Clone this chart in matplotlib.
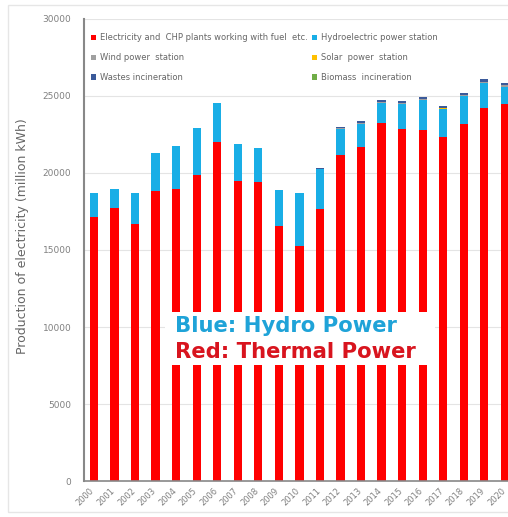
import matplotlib.pyplot as plt
import numpy as np

years = [str(y) for y in range(2000, 2021)]
# million kWh
thermal = [17150, 17700, 16700, 18830, 18980, 19870, 22030, 19480, 19420, 16560, 15260,
           17640, 21200, 21700, 23230, 22860, 22770, 22360, 23160, 24200, 24460]
totals = [18720, 18960, 18720, 21280, 21750, 22900, 24550, 21860, 21620, 18900, 18720,
          20300, 23010, 23380, 24740, 24680, 24960, 24350, 25220, 26090, 25870]
wind = [0, 0, 0, 0, 0, 0, 0, 0, 0, 0, 0, 20, 40, 60, 60, 60, 60, 60, 60, 70, 70]
solar = [0, 0, 0, 0, 0, 0, 0, 0, 0, 0, 0, 0, 5, 10, 15, 15, 20, 20, 20, 20, 20]
wastes = [0, 0, 0, 0, 0, 0, 0, 0, 0, 0, 0, 40, 80, 110, 130, 130, 140, 140, 150, 160, 160]
biomass = [0, 0, 0, 0, 0, 0, 0, 0, 0, 0, 0, 0, 0, 5, 5, 5, 5, 5, 5, 5, 5]
hydro = [t - a - b - c - d - e for t, a, b, c, d, e in zip(totals, thermal, wind, solar, wastes, biomass)]

labels = ["Electricity and  CHP plants working with fuel  etc.", "Hydroelectric power station",
          "Wind power  station", "Solar  power  station",
          "Wastes incineration", "Biomass  incineration"]
colors = ["#ff0000", "#19aee6", "#a0a0a0", "#ffc000", "#3b5a9a", "#70ad47"]

fig = plt.figure(figsize=(5.08, 5.17), dpi=100)
ax = fig.add_axes([0.165, 0.0696, 0.835, 0.8937])

x = np.arange(len(years))
series = [thermal, hydro, wind, solar, wastes, biomass]
bottom = np.zeros(len(years))
handles = []
for vals, lab, col in zip(series, labels, colors):
    h = ax.bar(x, vals, width=0.4, bottom=bottom, color=col, label=lab)
    handles.append(h)
    bottom += np.array(vals)

ax.set_xlim(-0.49, 20.15)
ax.set_ylim(0, 30000)
ax.set_yticks(range(0, 30001, 5000))
# ticks are invisible; nudge them left so the slanted years sit under the bars
ax.set_xticks(x - 0.2)
ax.set_xticklabels(years, rotation=45, ha="right", rotation_mode="anchor")
ax.tick_params(axis="both", length=0, colors="#808080", labelsize=6.5)
ax.tick_params(axis="x", labelsize=6, pad=4)
ax.tick_params(axis="y", pad=9)
ax.yaxis.grid(True, color="#e4e4e4", linewidth=0.8)
ax.set_axisbelow(True)
for s in ["top", "right"]:
    ax.spines[s].set_visible(False)
ax.spines["left"].set_color("#888888")
ax.spines["left"].set_linewidth(1.5)
ax.spines["bottom"].set_color("#888888")
ax.spines["bottom"].set_linewidth(1.2)

ax.set_ylabel("Production of electricity (million kWh)", fontsize=9, color="#666666")
ax.yaxis.set_label_coords(-0.13, 0.53)

# legend is filled column by column, so order handles to read row by row
order = [0, 2, 4, 1, 3, 5]
leg = ax.legend([handles[i] for i in order], [labels[i] for i in order],
                loc="upper left", ncol=2, frameon=False, fontsize=6,
                bbox_to_anchor=(0.0, 0.985), handlelength=0.6, handleheight=0.6,
                handletextpad=0.4, columnspacing=0.6, labelspacing=1.3, labelcolor="#666666")

# white panel behind the two notes
ax.add_patch(plt.Rectangle((0.191, 0.251), 0.637, 0.115, transform=ax.transAxes,
                           facecolor="white", edgecolor="none", zorder=2.5))
ax.text(0.215, 0.3225, "Blue: Hydro Power", transform=ax.transAxes, color="#1fa3d8",
        fontsize=15.2, fontweight="bold", family="DejaVu Sans", va="baseline", zorder=3)
ax.text(0.215, 0.266, "Red: Thermal Power", transform=ax.transAxes, color="#d8141e",
        fontsize=15.2, fontweight="bold", family="DejaVu Sans", va="baseline", zorder=3)

# faint frame round the chart
fig.add_artist(plt.Rectangle((8 / 508, 5 / 517), 1.0, 1 - 10 / 517, transform=fig.transFigure,
                             facecolor="none", edgecolor="#e6e6e6", linewidth=1))

fig.savefig("out.png", dpi=100)
